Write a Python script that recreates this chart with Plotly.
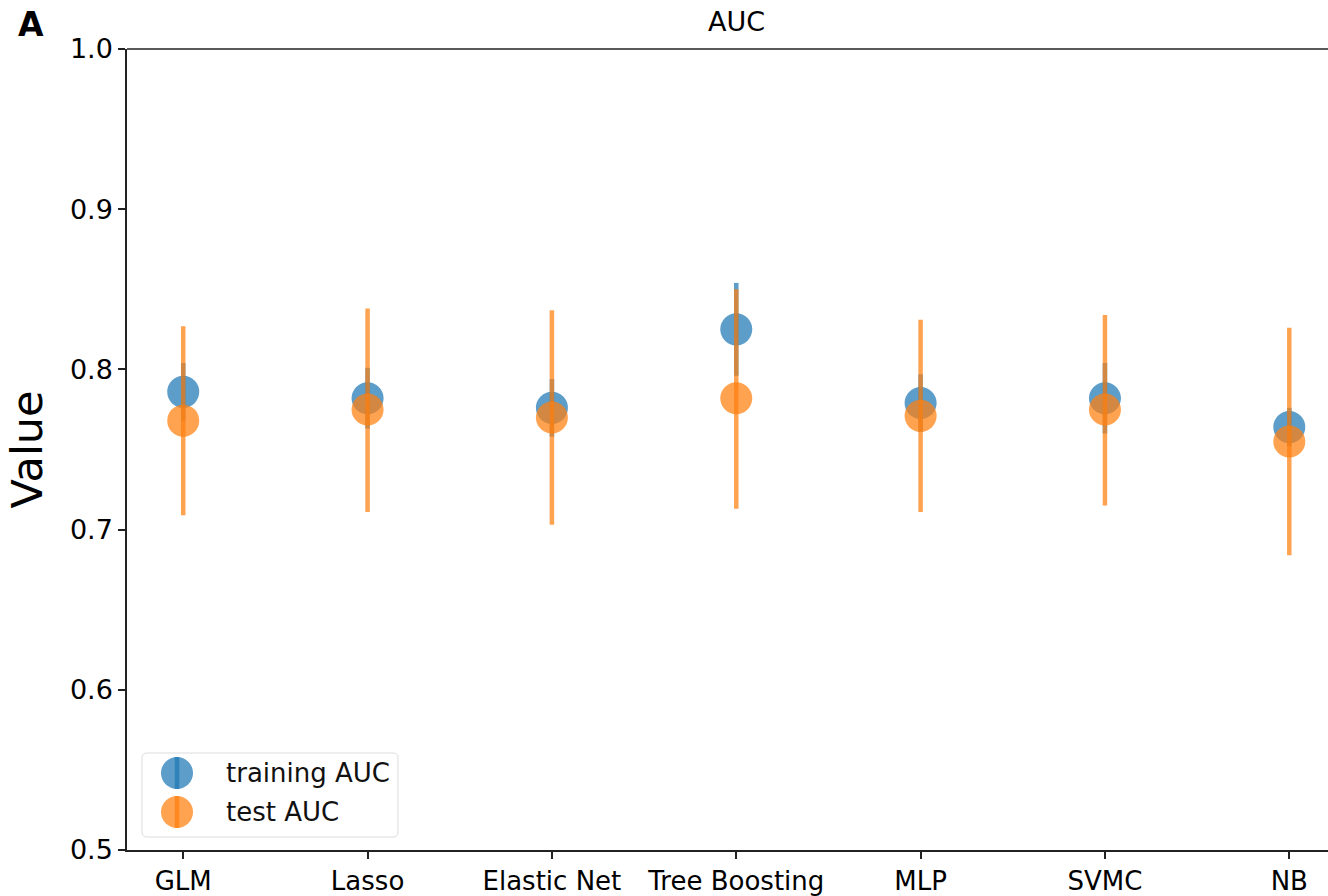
import plotly.graph_objects as go

models = ["GLM", "Lasso", "Elastic Net", "Tree Boosting", "MLP", "SVMC", "NB"]
train_auc = [0.786, 0.782, 0.776, 0.825, 0.779, 0.782, 0.764]
train_err = [0.018, 0.019, 0.018, 0.029, 0.018, 0.022, 0.012]
test_auc = [0.768, 0.775, 0.770, 0.782, 0.771, 0.775, 0.755]
test_err_up = [0.059, 0.063, 0.067, 0.068, 0.060, 0.059, 0.071]
test_err_down = [0.059, 0.064, 0.067, 0.069, 0.060, 0.060, 0.071]
y_ticks = [0.5, 0.6, 0.7, 0.8, 0.9, 1.0]
series_names = ["training AUC", "test AUC"]

BLUE = "rgba(31,119,180,0.72)"
ORANGE = "rgba(255,127,14,0.72)"
FONT = "DejaVu Sans"

W, H = 1328, 896
ML, MR, MT, MB = 127, 0, 49, 46
PW, PH = W - ML - MR, H - MT - MB


def px(x):
    return (x - ML) / PW


def py(y):
    return (H - MB - y) / PH


fig = go.Figure()
fig.add_trace(go.Scatter(
    x=list(range(len(models))), y=train_auc, mode="markers", name=series_names[0],
    marker=dict(size=32, color=BLUE, line=dict(width=0)),
    error_y=dict(type="data", array=train_err, color=BLUE, thickness=4.5, width=0),
    showlegend=False,
))
fig.add_trace(go.Scatter(
    x=list(range(len(models))), y=test_auc, mode="markers", name=series_names[1],
    marker=dict(size=32, color=ORANGE, line=dict(width=0)),
    error_y=dict(type="data", array=test_err_up, arrayminus=test_err_down,
                 symmetric=False, color=ORANGE, thickness=4.5, width=0),
    showlegend=False,
))

# manual legend (box, symbols, labels) to mimic matplotlib's legend look
x0, x1, y0, y1, r = 142, 398, 753, 837, 5
box_path = (
    f"M {px(x0 + r)} {py(y0)} L {px(x1 - r)} {py(y0)} Q {px(x1)} {py(y0)} {px(x1)} {py(y0 + r)} "
    f"L {px(x1)} {py(y1 - r)} Q {px(x1)} {py(y1)} {px(x1 - r)} {py(y1)} "
    f"L {px(x0 + r)} {py(y1)} Q {px(x0)} {py(y1)} {px(x0)} {py(y1 - r)} "
    f"L {px(x0)} {py(y0 + r)} Q {px(x0)} {py(y0)} {px(x0 + r)} {py(y0)} Z"
)
shapes = [
    dict(type="line", xref="paper", yref="paper", x0=0, x1=1, y0=1, y1=1,
         line=dict(color="#222", width=1.5)),
    dict(type="path", xref="paper", yref="paper", path=box_path,
         fillcolor="rgba(255,255,255,0.85)", line=dict(color="#dcdcdc", width=1)),
]
annotations = [
    dict(text="AUC", xref="x", yref="paper", x=3, y=1, yanchor="bottom",
         yshift=10, showarrow=False, font=dict(size=27, family=FONT)),
    dict(text="<b>A</b>", xref="paper", yref="paper", x=px(16), y=py(25),
         xanchor="left", yanchor="middle", showarrow=False,
         font=dict(size=33, family=FONT)),
]
for name, color, cy in zip(series_names, [BLUE, ORANGE], [773, 812]):
    shapes.append(dict(type="circle", xref="paper", yref="paper",
                       xsizemode="pixel", ysizemode="pixel",
                       xanchor=px(177), yanchor=py(cy), x0=-16, x1=16, y0=-16, y1=16,
                       fillcolor=color, line=dict(width=0)))
    shapes.append(dict(type="line", xref="paper", yref="paper",
                       x0=px(177), x1=px(177), y0=py(cy - 16), y1=py(cy + 16),
                       line=dict(color=color, width=4.5)))
    annotations.append(dict(text=name, xref="paper", yref="paper", x=px(224), y=py(cy),
                            xanchor="left", yanchor="middle", showarrow=False,
                            font=dict(size=26, family=FONT, color="#111")))

fig.update_layout(
    width=W, height=H,
    margin=dict(l=ML, r=MR, t=MT, b=MB),
    paper_bgcolor="white", plot_bgcolor="white",
    font=dict(family=FONT, color="black", size=26),
    showlegend=False,
    xaxis=dict(
        range=[-0.305, 6.21], tickmode="array",
        tickvals=list(range(len(models))), ticktext=models,
        showgrid=False, zeroline=False, showline=True, linecolor="#222", linewidth=1.5,
        ticks="outside", ticklen=7, tickwidth=1.5, tickcolor="#222",
        tickfont=dict(size=26, family=FONT), mirror=False,
    ),
    yaxis=dict(
        range=[0.5, 1.0], tickmode="array", tickvals=y_ticks,
        ticktext=[f"{v:.1f}" for v in y_ticks],
        showgrid=False, zeroline=False, showline=True, linecolor="#222", linewidth=1.5,
        ticks="outside", ticklen=7, tickwidth=1.5, tickcolor="#222",
        tickfont=dict(size=27, family=FONT),
        title=dict(text="Value", font=dict(size=43, family=FONT), standoff=14),
    ),
    shapes=shapes,
    annotations=annotations,
)

fig.write_html("out.html")
